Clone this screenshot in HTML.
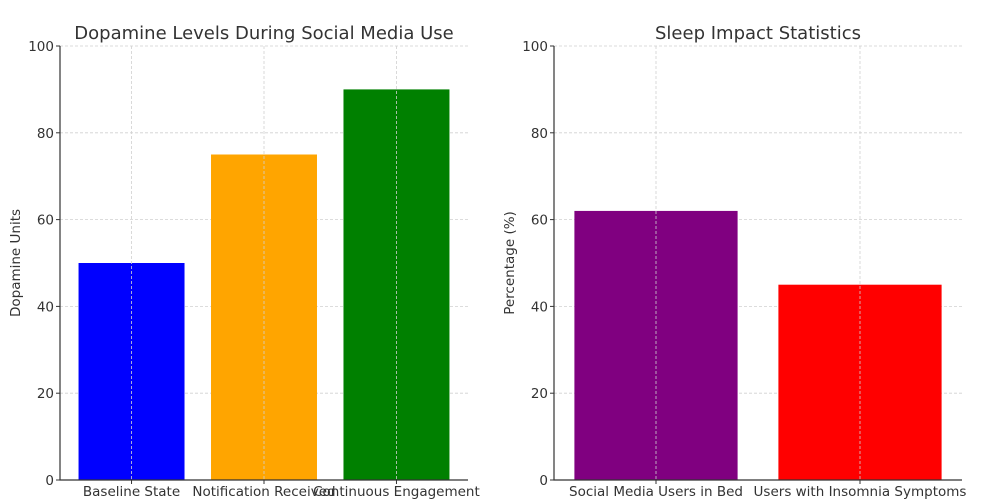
<!DOCTYPE html>
<html><head><meta charset="utf-8"><style>
body{margin:0;background:#fff;}
svg{display:block;font-family:"DejaVu Sans","Liberation Sans",sans-serif;}
</style></head><body>
<svg id="chart" width="994" height="500" viewBox="0 0 994 500"></svg>
<script>
const leftCategories=["Baseline State","Notification Received","Continuous Engagement"];
const leftValues=[50,75,90];
const leftColors=["#0000ff","#ffa500","#008000"];
const rightCategories=["Social Media Users in Bed","Users with Insomnia Symptoms"];
const rightValues=[62,45];
const rightColors=["#800080","#ff0000"];
const yTicks=[0,20,40,60,80,100];
const NS="http://www.w3.org/2000/svg";
const svg=document.getElementById('chart');
function el(tag,attrs,parent){const e=document.createElementNS(NS,tag);for(const k in attrs)e.setAttribute(k,attrs[k]);(parent||svg).appendChild(e);return e;}
function panel(cfg){
  const g=el('g',{});
  
  
  const n=cfg.cats.length;
  const x0=cfg.left,x1=cfg.right,yb=480,yt=46;
  const lo=-0.5-cfg.pad,hi=n-0.5+cfg.pad;
  const xs=v=>x0+(v-lo)/(hi-lo)*(x1-x0);
  const ys=v=>yb-(v/100)*(yb-yt);
  yTicks.forEach(t=>{
    const l=el('line',{x1:x0,x2:x1,y1:ys(t),y2:ys(t),stroke:'#d0d0d0','stroke-dasharray':'3,2','stroke-width':0.8},g);
    
    
    const tk=el('line',{x1:x0-4,x2:x0,y1:ys(t),y2:ys(t),stroke:'#333'},g);
    
    
    const tx=el('text',{x:x0-6,y:ys(t)+5,'text-anchor':'end','font-size':13.5,fill:'#333'},g);
    tx.textContent=t;
    
    
  });
  cfg.cats.forEach((c,i)=>{
    const b=el('rect',{x:xs(i-0.4),y:ys(cfg.vals[i]),width:xs(i+0.4)-xs(i-0.4),height:ys(0)-ys(cfg.vals[i]),fill:cfg.colors[i]},g);
    
    
  });
  cfg.cats.forEach((c,i)=>{
    const l=el('line',{x1:xs(i),x2:xs(i),y1:yt,y2:yb,stroke:'#d0d0d0','stroke-dasharray':'3,2','stroke-width':0.8},g);
    
    
    const tk=el('line',{x1:xs(i),x2:xs(i),y1:yb,y2:yb+4,stroke:'#333'},g);
    
    
    const tx=el('text',{x:xs(i),y:yb+16,'text-anchor':'middle','font-size':13.5,fill:'#333'},g);
    tx.textContent=c;
    
    
  });
  const ax=el('path',{d:`M${x0},${yt}V${yb}H${x1}`,fill:'none',stroke:'#333','stroke-width':1.2},g);
  
  
  const t=el('text',{x:(x0+x1)/2,y:39,'text-anchor':'middle','font-size':18,fill:'#333'},g);
  t.textContent=cfg.title;
  
  
  const yl=el('text',{x:0,y:0,'text-anchor':'middle','font-size':13.5,fill:'#333',transform:`translate(${x0-40},${(yt+yb)/2}) rotate(-90)`},g);
  yl.textContent=cfg.ylabel;
  
  
}
panel({name:'dopamine-chart',cats:leftCategories,vals:leftValues,colors:leftColors,left:60,right:468,pad:0.04,title:'Dopamine Levels During Social Media Use',ylabel:'Dopamine Units'});
panel({name:'sleep-chart',cats:rightCategories,vals:rightValues,colors:rightColors,left:554,right:962,pad:0.0,title:'Sleep Impact Statistics',ylabel:'Percentage (%)'});
</script>
</body></html>
